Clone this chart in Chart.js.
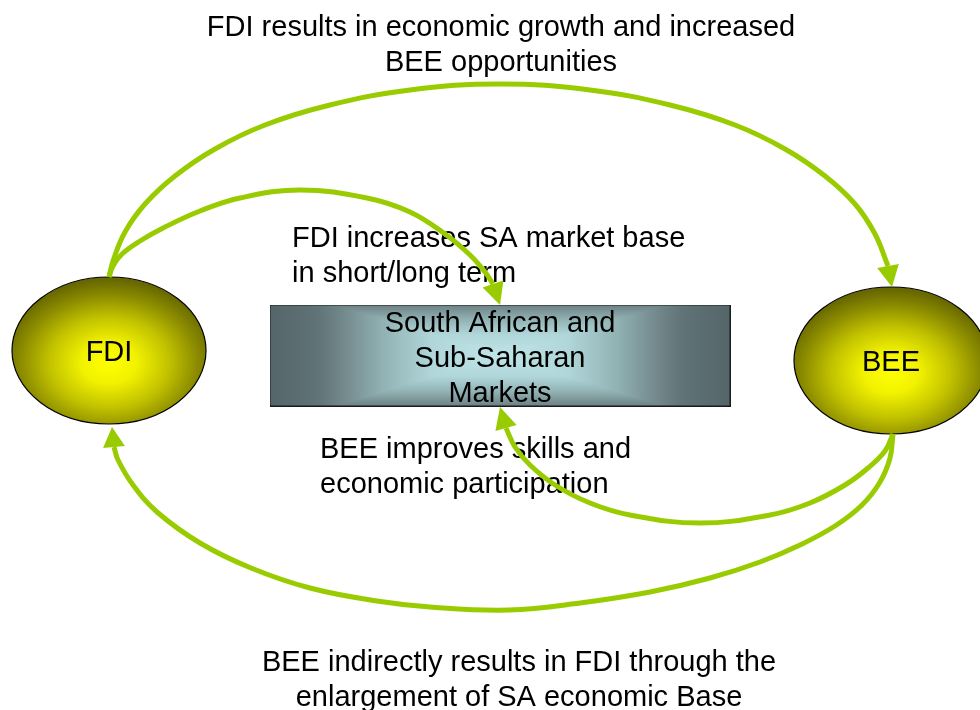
<!DOCTYPE html>
<html>
<head>
<meta charset="utf-8">
<title>FDI and BEE</title>
<script src="https://cdn.jsdelivr.net/npm/chart.js@4.4.1/dist/chart.umd.min.js"></script>
<style>
  html, body { margin: 0; padding: 0; background: #fff; }
  #wrap { width: 980px; height: 710px; }
</style>
</head>
<body>
<div id="wrap"><canvas id="diagram" width="980" height="710"></canvas></div>
<script>
// the two nodes of the cycle
const nodeLabels = ['FDI', 'BEE'];
const nodeX = [109, 891];
const nodeY = [350.5, 360.5];

// market box in the middle
const marketLines = ['South African and', 'Sub-Saharan', 'Markets'];
const marketX = [500];
const marketY = [355.5];

// arrows, the last point of each one is where the arrow head points
const fdiToBee = [[109, 277], [113, 261], [125, 232], [145, 204], [175, 176], [215, 149], [265, 125], [330, 105], [410, 90],
  [500, 84], [590, 90], [670, 105], [735, 125], [785, 149], [825, 176], [855, 204], [875, 234], [888, 266], [892, 287]];
const fdiToMarket = [[109, 277], [113, 266], [122, 254], [140, 241], [165, 227], [200, 211], [240, 198], [300, 190], [367, 198],
  [410, 212], [445, 234], [470, 255], [485, 272], [493, 284], [500, 305]];
const beeToMarket = [[893, 434], [885, 451], [868, 468], [845, 485], [810, 503], [770, 515], [700, 523], [630, 515], [590, 503],
  [555, 485], [530, 465], [515, 447], [506, 428], [500, 407]];
const beeToFdi = [[893, 434], [890, 458], [880, 482], [862, 505], [835, 526], [800, 545], [760, 562], [710, 578], [650, 592],
  [580, 603], [509, 610], [430, 607], [377, 601], [310, 588], [251, 568], [200, 543], [157, 512], [133, 485], [118, 460],
  [114, 447], [112, 427]];

// captions: text lines, anchor, first baseline
const captionTop = ['FDI results in economic growth and increased', 'BEE opportunities'];
const captionFdiMarket = ['FDI increases SA market base', 'in short/long term'];
const captionBeeMarket = ['BEE improves skills and', 'economic participation'];
const captionBottom = ['BEE indirectly results in FDI through the', 'enlargement of SA economic Base'];

const arrows = [fdiToBee, fdiToMarket, beeToMarket, beeToFdi];
const captions = [
  { lines: captionTop, x: 501, y: 35.5, align: 'center' },
  { lines: captionFdiMarket, x: 292, y: 247, align: 'left' },
  { lines: captionBeeMarket, x: 320, y: 458, align: 'left' },
  { lines: captionBottom, x: 519, y: 670.5, align: 'center' }
];

const GREEN = '#99cc00';
const FONT = '29px "Liberation Sans", Arial, sans-serif';
const LINE_STEP = 35;

function makeEllipse(rx, ry) {
  const c = document.createElement('canvas');
  c.width = Math.round(rx * 2) + 6;
  c.height = Math.round(ry * 2) + 4;
  const g = c.getContext('2d');
  const cx = c.width / 2, cy = c.height / 2;
  g.save();
  g.translate(cx, cy);
  g.scale(1, ry / rx);
  const off = 12 * rx / ry;
  const grad = g.createRadialGradient(0, off, 0, 0, off, rx * 1.12);
  grad.addColorStop(0, '#ffff00');
  grad.addColorStop(0.25, '#f2f200');
  grad.addColorStop(0.55, '#c2c200');
  grad.addColorStop(0.8, '#8e8e00');
  grad.addColorStop(1, '#686800');
  g.beginPath();
  g.arc(0, 0, rx, 0, Math.PI * 2);
  g.fillStyle = grad;
  g.fill();
  g.restore();
  g.beginPath();
  g.ellipse(cx, cy, rx, ry, 0, 0, Math.PI * 2);
  g.lineWidth = 1.2;
  g.strokeStyle = '#000';
  g.stroke();
  return c;
}

function hexToRgb(h) {
  return [parseInt(h.slice(1, 3), 16), parseInt(h.slice(3, 5), 16), parseInt(h.slice(5, 7), 16)];
}

function makeMarketBox(w, h) {
  const c = document.createElement('canvas');
  c.width = w;
  c.height = h;
  const g = c.getContext('2d');
  const stops = [[0, '#c0e5e8'], [0.3, '#b0d6d9'], [0.5, '#93b4b6'], [0.68, '#73898c'], [0.8, '#5f7275'], [1, '#55666a']]
    .map(s => [s[0], hexToRgb(s[1])]);
  const img = g.createImageData(w, h);
  for (let y = 0; y < h; y++) {
    for (let x = 0; x < w; x++) {
      const dx = Math.abs(x + 0.5 - w / 2) / (w / 2);
      const dy = Math.abs(y + 0.5 - h / 2) / (h / 2);
      const t = Math.min(1, Math.max(dx, 0.72 * dy));
      let k = 1;
      while (k < stops.length - 1 && stops[k][0] < t) k++;
      const a = stops[k - 1], b = stops[k];
      const f = (t - a[0]) / (b[0] - a[0]);
      const i = (y * w + x) * 4;
      for (let j = 0; j < 3; j++) img.data[i + j] = Math.round(a[1][j] + (b[1][j] - a[1][j]) * f);
      img.data[i + 3] = 255;
    }
  }
  g.putImageData(img, 0, 0);
  g.strokeStyle = '#1a1a1a';
  g.lineWidth = 1;
  g.strokeRect(0.5, 0.5, w - 1, h - 1);
  return c;
}

const ellipseImg = makeEllipse(97, 73.5);
const boxImg = makeMarketBox(461, 102);

function drawText(chart, lines, x, y, align) {
  const ctx = chart.ctx;
  const sx = chart.scales.x, sy = chart.scales.y;
  ctx.save();
  ctx.font = FONT;
  ctx.fillStyle = '#000';
  ctx.textAlign = align;
  ctx.textBaseline = 'alphabetic';
  lines.forEach((t, i) => {
    ctx.fillText(t, sx.getPixelForValue(x), sy.getPixelForValue(y + i * LINE_STEP));
  });
  ctx.restore();
}

const textPlugin = {
  id: 'texts',
  afterDatasetDraw(chart, args) {
    if (args.meta._dataset.id !== 'market') return;
    nodeLabels.forEach((name, i) => drawText(chart, [name], nodeX[i], nodeY[i] + 10.5, 'center'));
    drawText(chart, marketLines, marketX[0], marketY[0] - 24, 'center');
    captions.forEach(c => drawText(chart, c.lines, c.x, c.y, c.align));
  }
};

const arrowHeadPlugin = {
  id: 'arrowHeads',
  afterDatasetsDraw(chart) {
    const ctx = chart.ctx;
    const sx = chart.scales.x, sy = chart.scales.y;
    arrows.forEach(arr => {
      const base = arr[arr.length - 2], tip = arr[arr.length - 1];
      const bx = sx.getPixelForValue(base[0]), by = sy.getPixelForValue(base[1]);
      const tx = sx.getPixelForValue(tip[0]), ty = sy.getPixelForValue(tip[1]);
      const len = Math.hypot(tx - bx, ty - by);
      const nx = -(ty - by) / len * 11, ny = (tx - bx) / len * 11;
      ctx.save();
      ctx.beginPath();
      ctx.moveTo(tx, ty);
      ctx.lineTo(bx + nx, by + ny);
      ctx.lineTo(bx - nx, by - ny);
      ctx.closePath();
      ctx.fillStyle = GREEN;
      ctx.fill();
      ctx.restore();
    });
  }
};

const lineSets = arrows.map(arr => ({
  type: 'line',
  data: arr.slice(0, -1).map(p => ({ x: p[0], y: p[1] })),
  borderColor: GREEN,
  borderWidth: 5,
  borderCapStyle: 'butt',
  tension: 0.4,
  pointRadius: 0,
  fill: false,
  order: 0
}));

new Chart(document.getElementById('diagram'), {
  type: 'scatter',
  data: {
    datasets: [
      {
        id: 'nodes',
        data: nodeX.map((x, i) => ({ x: x, y: nodeY[i] })),
        pointStyle: ellipseImg,
        pointRadius: 10,
        order: 10
      },
      {
        id: 'market',
        data: marketX.map((x, i) => ({ x: x, y: marketY[i] })),
        pointStyle: boxImg,
        pointRadius: 10,
        order: 9
      },
      ...lineSets
    ]
  },
  options: {
    responsive: false,
    devicePixelRatio: 1,
    animation: false,
    events: [],
    layout: { padding: 0, autoPadding: false },
    plugins: {
      legend: { display: false },
      tooltip: { enabled: false }
    },
    scales: {
      x: { type: 'linear', min: 0, max: 980, display: false },
      y: { type: 'linear', min: 0, max: 710, reverse: true, display: false }
    }
  },
  plugins: [textPlugin, arrowHeadPlugin]
});
</script>
</body>
</html>
